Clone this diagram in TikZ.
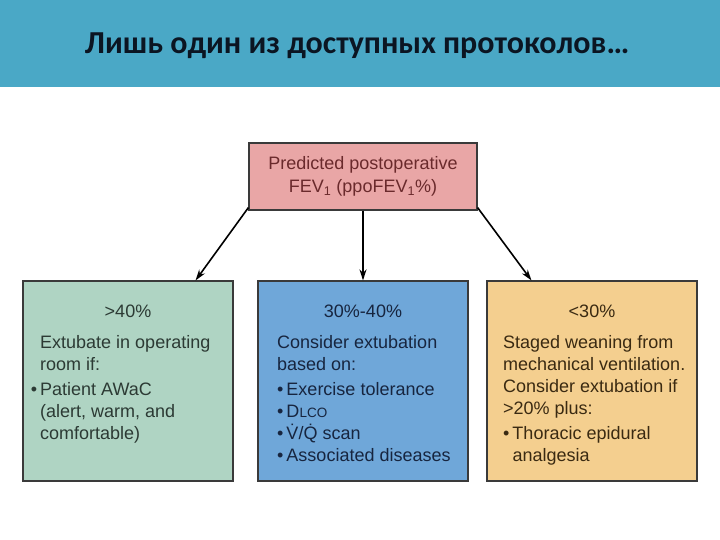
\documentclass[tikz,border=0pt]{standalone}
\usepackage{fontspec}
\setmainfont{Liberation Sans}
\newfontfamily\titlefont{Carlito}
\usetikzlibrary{arrows.meta,calc}
\definecolor{band}{HTML}{4AA8C6}
\definecolor{titletext}{HTML}{0B1522}
\definecolor{pinkfill}{HTML}{E9A6A6}
\definecolor{greenfill}{HTML}{AFD4C3}
\definecolor{bluefill}{HTML}{6FA7D9}
\definecolor{orangefill}{HTML}{F4CF8F}
\definecolor{pinktext}{HTML}{6A2A2C}
\definecolor{greentext}{HTML}{2C3A34}
\definecolor{bluetext}{HTML}{17253F}
\definecolor{orangetext}{HTML}{3A2A12}
\definecolor{boxline}{HTML}{3A3A3A}
\tikzset{
  box/.style={draw=boxline, line width=1.2pt, rectangle, inner sep=0pt, minimum width=210pt, minimum height=200pt},
  boxtext/.style={inner sep=0pt, align=left, anchor=north west, font=\fontsize{18}{22}\selectfont},
  headtext/.style={inner sep=0pt, anchor=center, font=\fontsize{18}{20}\selectfont},
  link/.style={line width=1.6pt, -{Stealth[length=11pt,width=7pt]}}
}
\begin{document}
\begin{tikzpicture}[x=1pt,y=-1pt]
\useasboundingbox (0,0) rectangle (720,540);
\fill[band] (0,0) rectangle (720,87);
\node[inner sep=0pt, text=titletext, font=\titlefont\bfseries\fontsize{32}{36}\selectfont] (title) at (357,46) {Лишь один из доступных протоколов…};

\node[box, fill=pinkfill, minimum width=228pt, minimum height=67pt] (top) at (363,176.5) {};
\node[inner sep=0pt, align=center, text=pinktext, font=\fontsize{18}{23}\selectfont] (toptext) at (top.center) {Predicted postoperative\\FEV\textsubscript{1} (ppoFEV\textsubscript{1}\%)};

\node[box, fill=greenfill] (lb) at (128,381) {};
\node[box, fill=bluefill] (mb) at (363,381) {};
\node[box, fill=orangefill] (rb) at (592,381) {};

\node[headtext, text=greentext] (lh) at (128,311) {>40\%};
\node[headtext, text=bluetext] (mh) at (363,311) {30\%-40\%};
\node[headtext, text=orangetext] (rh) at (592,311) {<30\%};

\node[boxtext, text=greentext] (lt) at (40,335) {Extubate in operating\\room if:\\[3pt]\llap{•\,}Patient AWaC\\(alert, warm, and\\comfortable)};
\node[boxtext, text=bluetext] (mt) at (277,335) {Consider extubation\\based on:\\[3pt]•\,Exercise tolerance\\•\,D{\fontsize{13.5}{13.5}\selectfont LCO}\\•\,\.{V}/\.{Q} scan\\•\,Associated diseases};
\node[boxtext, text=orangetext] (rt) at (503,335) {Staged weaning from\\mechanical ventilation.\\Consider extubation if\\>20\% plus:\\[3pt]•\,Thoracic epidural\\\phantom{•\,}analgesia};

\draw[link] ($(top.south west)+(0,-3)$) -- ($(lb.north east)+(-38,0)$);
\draw[link] (top.south) -- (mb.north);
\draw[link] ($(top.south east)+(0,-3)$) -- ($(rb.north west)+(45,0)$);
\end{tikzpicture}
\end{document}
